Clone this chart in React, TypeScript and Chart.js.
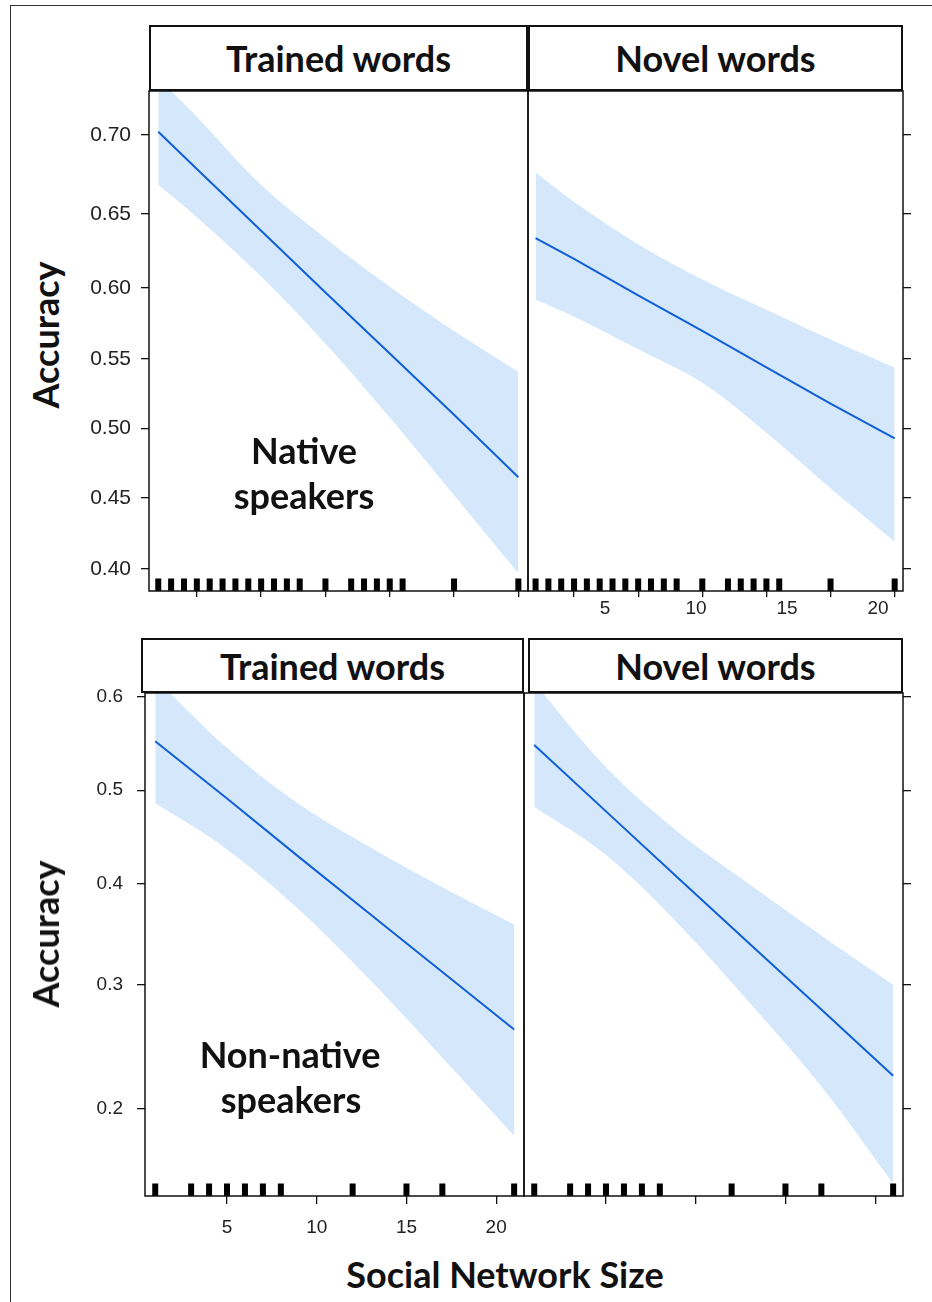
import React, { useEffect, useRef } from 'react';
import { Chart, registerables, LinearScale } from 'chart.js';

Chart.register(...registerables);

// ---------------- data ----------------
const PANEL_TITLES = ['Trained words', 'Novel words'];
const GROUP_LABELS = [['Native', 'speakers'], ['Non-native', 'speakers']];
const Y_TITLE = 'Accuracy';
const X_TITLE = 'Social Network Size';

const NATIVE_X = [2, 5, 10, 15, 20, 25, 30];
const NATIVE_TRAINED_FIT = [0.702, 0.679, 0.639, 0.597, 0.554, 0.51, 0.465];
const NATIVE_TRAINED_LOWER = [0.669, 0.648, 0.608, 0.561, 0.508, 0.452, 0.397];
const NATIVE_TRAINED_UPPER = [0.733, 0.711, 0.669, 0.634, 0.601, 0.57, 0.541];
const NATIVE_NOVEL_FIT = [0.634, 0.62, 0.595, 0.57, 0.544, 0.518, 0.493];
const NATIVE_NOVEL_LOWER = [0.592, 0.58, 0.557, 0.533, 0.497, 0.457, 0.419];
const NATIVE_NOVEL_UPPER = [0.677, 0.658, 0.63, 0.606, 0.585, 0.564, 0.544];

const NONNATIVE_X = [1, 5, 9, 13, 17, 21];
const NONNATIVE_TRAINED_FIT = [0.553, 0.491, 0.428, 0.368, 0.312, 0.261];
const NONNATIVE_TRAINED_LOWER = [0.486, 0.436, 0.373, 0.304, 0.238, 0.182];
const NONNATIVE_TRAINED_UPPER = [0.619, 0.546, 0.485, 0.438, 0.396, 0.358];
const NONNATIVE_NOVEL_FIT = [0.549, 0.477, 0.406, 0.339, 0.278, 0.224];
const NONNATIVE_NOVEL_LOWER = [0.482, 0.43, 0.359, 0.284, 0.216, 0.153];
const NONNATIVE_NOVEL_UPPER = [0.615, 0.525, 0.455, 0.399, 0.347, 0.3];

const NATIVE_RUG = [2, 3, 4, 5, 6, 7, 8, 9, 10, 11, 12, 13, 15, 17, 18, 19, 20, 21, 25, 30];
const NONNATIVE_RUG = [1, 3, 4, 5, 6, 7, 8, 12, 15, 17, 21];

const NATIVE_Y_TICKS = [0.4, 0.45, 0.5, 0.55, 0.6, 0.65, 0.7];
const NONNATIVE_Y_TICKS = [0.2, 0.3, 0.4, 0.5, 0.6];
const NATIVE_X_TICKS = [5, 10, 15, 20, 25, 30];
const X_TICK_LABELS = [5, 10, 15, 20];

// ---------------- logit scale ----------------
const logit = (p: number) => Math.log(p / (1 - p));
const invLogit = (z: number) => 1 / (1 + Math.exp(-z));

class LogitScale extends LinearScale {
  static id = 'logit';
  static defaults = {};
  getPixelForValue(value: any) {
    if (value === null || value === undefined || isNaN(value)) return NaN;
    const lo = logit((this as any).min);
    const hi = logit((this as any).max);
    return (this as any).getPixelForDecimal((logit(value) - lo) / (hi - lo));
  }
  getValueForPixel(pixel: number) {
    const lo = logit((this as any).min);
    const hi = logit((this as any).max);
    return invLogit(lo + (this as any).getDecimalForPixel(pixel) * (hi - lo));
  }
}
Chart.register(LogitScale as any);

// ---------------- styles ----------------
const BAND = '#d5e8fb';
const LINE = '#0f5fd8';
const TICK_FONT = '"Liberation Sans", Arial, sans-serif';
const TITLE_FONT = 'Lato, "Noto Sans", sans-serif';

type PanelSpec = {
  key: string;
  left: number; top: number; width: number; height: number;
  pad: { left: number; top: number; right: number; bottom: number };
  ySide: 'left' | 'right';
  yWidth: number;
  yMin: number; yMax: number; yTicks: number[]; yDigits: number | null; yFont: number; yTickLen: number; yPad: number;
  xMin: number; xMax: number; xTicks: number[]; xLabels: boolean; xHeight: number; xTickLen: number; xPad: number;
  labelAxis?: { min: number; max: number; ticks: number[]; height: number; pad: number };
  xs: number[]; fit: number[]; lower: number[]; upper: number[]; rug: number[];
};

const framePlugin = {
  id: 'panelFrame',
  afterDraw(chart: any) {
    const { ctx, chartArea: a } = chart;
    ctx.save();
    ctx.strokeStyle = '#111';
    ctx.lineWidth = 1.5;
    ctx.strokeRect(a.left, a.top, a.right - a.left, a.bottom - a.top);
    ctx.restore();
  },
};

function makeRugPlugin(values: number[]) {
  return {
    id: 'rug',
    afterDatasetsDraw(chart: any) {
      const { ctx, chartArea: a } = chart;
      const xs = chart.scales.x;
      ctx.save();
      ctx.fillStyle = '#000';
      values.forEach((v) => {
        const px = xs.getPixelForValue(v);
        ctx.fillRect(px - 3, a.bottom - 12.5, 6, 12.5);
      });
      ctx.restore();
    },
  };
}

const noPad = (s: any) => {
  s.paddingLeft = 0;
  s.paddingRight = 0;
  s.paddingTop = 0;
  s.paddingBottom = 0;
};

function buildConfig(p: PanelSpec): any {
  const pts = (ys: number[]) => p.xs.map((x, i) => ({ x, y: ys[i] }));
  const tickGrid = (len: number) => ({
    display: true,
    drawOnChartArea: false,
    drawTicks: true,
    tickLength: len,
    color: '#111',
    lineWidth: 1.3,
  });
  const scales: any = {
    x: {
      type: 'linear',
      position: 'bottom',
      min: p.xMin,
      max: p.xMax,
      afterBuildTicks: (s: any) => { s.ticks = p.xTicks.map((v) => ({ value: v })); },
      afterFit: (s: any) => { s.height = p.xHeight; noPad(s); },
      grid: tickGrid(p.xTickLen),
      border: { display: false },
      ticks: {
        autoSkip: false,
        maxRotation: 0,
        padding: p.xPad,
        color: '#222',
        font: { family: TICK_FONT, size: 19 },
        callback: p.xLabels ? (v: any) => String(v) : () => '',
      },
    },
    y: {
      type: 'logit',
      position: p.ySide,
      min: p.yMin,
      max: p.yMax,
      afterBuildTicks: (s: any) => { s.ticks = p.yTicks.map((v) => ({ value: v })); },
      afterFit: (s: any) => { s.width = p.yWidth; noPad(s); },
      grid: tickGrid(p.yTickLen),
      border: { display: false },
      ticks: {
        autoSkip: false,
        padding: p.yPad,
        color: '#222',
        font: { family: TICK_FONT, size: p.yFont },
        callback: p.yDigits !== null ? (v: any) => Number(v).toFixed(p.yDigits as number) : () => '',
      },
    },
  };
  if (p.labelAxis) {
    const la = p.labelAxis;
    scales.x2 = {
      type: 'linear',
      position: 'bottom',
      weight: 1,
      min: la.min,
      max: la.max,
      afterBuildTicks: (s: any) => { s.ticks = la.ticks.map((v) => ({ value: v })); },
      afterFit: (s: any) => { s.height = la.height; noPad(s); },
      grid: { display: false, drawTicks: false },
      border: { display: false },
      ticks: {
        autoSkip: false,
        maxRotation: 0,
        padding: la.pad,
        color: '#222',
        font: { family: TICK_FONT, size: 19 },
        callback: (v: any) => String(v),
      },
    };
  }
  return {
    type: 'line',
    data: {
      datasets: [
        { data: pts(p.lower), order: 2, borderWidth: 0, pointRadius: 0, fill: false, tension: 0.35, backgroundColor: BAND, borderColor: BAND },
        { data: pts(p.upper), order: 1, borderWidth: 0, pointRadius: 0, fill: '-1', tension: 0.35, backgroundColor: BAND, borderColor: BAND },
        { data: pts(p.fit), order: 0, borderWidth: 2, pointRadius: 0, fill: false, tension: 0, borderColor: LINE },
      ],
    },
    options: {
      responsive: false,
      animation: false,
      devicePixelRatio: 1,
      events: [],
      layout: { padding: p.pad },
      plugins: { legend: { display: false }, tooltip: { enabled: false }, title: { display: false } },
      scales,
    },
    plugins: [framePlugin, makeRugPlugin(p.rug)],
  };
}

const PANELS: PanelSpec[] = [
  {
    key: 'tl', left: 69, top: 85, width: 463, height: 536,
    pad: { left: 0, top: 6, right: 4, bottom: 0 },
    ySide: 'left', yWidth: 80,
    yMin: 0.3849, yMax: 0.726, yTicks: NATIVE_Y_TICKS, yDigits: 2, yFont: 21, yTickLen: 8, yPad: 10,
    xMin: 1.28, xMax: 30.75, xTicks: NATIVE_X_TICKS, xLabels: false, xHeight: 30, xTickLen: 6, xPad: 0,
    xs: NATIVE_X, fit: NATIVE_TRAINED_FIT, lower: NATIVE_TRAINED_LOWER, upper: NATIVE_TRAINED_UPPER, rug: NATIVE_RUG,
  },
  {
    key: 'tr', left: 524, top: 85, width: 399, height: 546,
    pad: { left: 4, top: 6, right: 0, bottom: 0 },
    ySide: 'right', yWidth: 20,
    yMin: 0.3849, yMax: 0.726, yTicks: NATIVE_Y_TICKS, yDigits: null, yFont: 21, yTickLen: 8, yPad: 4,
    xMin: 1.41, xMax: 30.65, xTicks: NATIVE_X_TICKS, xLabels: false, xHeight: 6, xTickLen: 6, xPad: 0,
    labelAxis: { min: 0.77, max: 21.37, ticks: X_TICK_LABELS, height: 34, pad: 0 },
    xs: NATIVE_X, fit: NATIVE_NOVEL_FIT, lower: NATIVE_NOVEL_LOWER, upper: NATIVE_NOVEL_UPPER, rug: NATIVE_RUG,
  },
  {
    key: 'bl', left: 65, top: 681, width: 463, height: 560,
    pad: { left: 0, top: 12, right: 4, bottom: 0 },
    ySide: 'left', yWidth: 80,
    yMin: 0.1461, yMax: 0.6042, yTicks: NONNATIVE_Y_TICKS, yDigits: 1, yFont: 19, yTickLen: 8, yPad: 14,
    xMin: 0.43, xMax: 21.55, xTicks: X_TICK_LABELS, xLabels: true, xHeight: 45, xTickLen: 8, xPad: 12,
    xs: NONNATIVE_X, fit: NONNATIVE_TRAINED_FIT, lower: NONNATIVE_TRAINED_LOWER, upper: NONNATIVE_TRAINED_UPPER, rug: NONNATIVE_RUG,
  },
  {
    key: 'br', left: 520, top: 681, width: 403, height: 535,
    pad: { left: 4, top: 12, right: 0, bottom: 0 },
    ySide: 'right', yWidth: 20,
    yMin: 0.1461, yMax: 0.6042, yTicks: NONNATIVE_Y_TICKS, yDigits: null, yFont: 19, yTickLen: 8, yPad: 4,
    xMin: 0.43, xMax: 21.55, xTicks: X_TICK_LABELS, xLabels: false, xHeight: 20, xTickLen: 8, xPad: 0,
    xs: NONNATIVE_X, fit: NONNATIVE_NOVEL_FIT, lower: NONNATIVE_NOVEL_LOWER, upper: NONNATIVE_NOVEL_UPPER, rug: NONNATIVE_RUG,
  },
];

function Panel({ spec }: { spec: PanelSpec }) {
  const ref = useRef<HTMLCanvasElement | null>(null);
  useEffect(() => {
    if (!ref.current) return;
    const chart = new Chart(ref.current, buildConfig(spec));
    return () => chart.destroy();
  }, [spec]);
  return (
    <canvas
      ref={ref}
      width={spec.width}
      height={spec.height}
      style={{ position: 'absolute', left: spec.left, top: spec.top, width: spec.width, height: spec.height }}
    />
  );
}

const STRIPS = [
  { left: 149, top: 25, width: 379, height: 66, text: PANEL_TITLES[0] },
  { left: 528, top: 25, width: 375, height: 66, text: PANEL_TITLES[1] },
  { left: 141, top: 638, width: 383, height: 55, text: PANEL_TITLES[0] },
  { left: 528, top: 638, width: 375, height: 55, text: PANEL_TITLES[1] },
];

const bigText: React.CSSProperties = {
  position: 'absolute',
  fontFamily: TITLE_FONT,
  fontWeight: 700,
  fontSize: 36,
  lineHeight: 1,
  color: '#111',
  whiteSpace: 'nowrap',
  transform: 'translate(-50%, -50%)',
};

function Label({ x, y, text, rotate }: { x: number; y: number; text: string; rotate?: boolean }) {
  return (
    <div style={{ ...bigText, left: x, top: y, transform: rotate ? 'translate(-50%, -50%) rotate(-90deg)' : bigText.transform }}>
      {text}
    </div>
  );
}

export default function App() {
  return (
    <div style={{ position: 'absolute', left: 0, top: 0, width: 932, height: 1302, overflow: 'hidden', background: '#fff' }}>
      <div style={{ position: 'absolute', left: 10, top: 5, width: 960, height: 1340, border: '1.5px solid #333', boxSizing: 'border-box' }} />
      {STRIPS.map((s, i) => (
        <div
          key={i}
          style={{
            position: 'absolute', left: s.left, top: s.top, width: s.width, height: s.height,
            border: '2px solid #111', boxSizing: 'border-box', background: '#fff',
            display: 'flex', alignItems: 'center', justifyContent: 'center',
            fontFamily: TITLE_FONT, fontWeight: 700, fontSize: 36, lineHeight: 1, color: '#111',
          }}
        >
          {s.text}
        </div>
      ))}
      {PANELS.map((p) => <Panel key={p.key} spec={p} />)}
      <Label x={304} y={450} text={GROUP_LABELS[0][0]} />
      <Label x={304} y={495} text={GROUP_LABELS[0][1]} />
      <Label x={290} y={1054} text={GROUP_LABELS[1][0]} />
      <Label x={291} y={1099} text={GROUP_LABELS[1][1]} />
      <Label x={45} y={335} text={Y_TITLE} rotate />
      <Label x={45} y={934} text={Y_TITLE} rotate />
      <Label x={505} y={1274} text={X_TITLE} />
    </div>
  );
}
